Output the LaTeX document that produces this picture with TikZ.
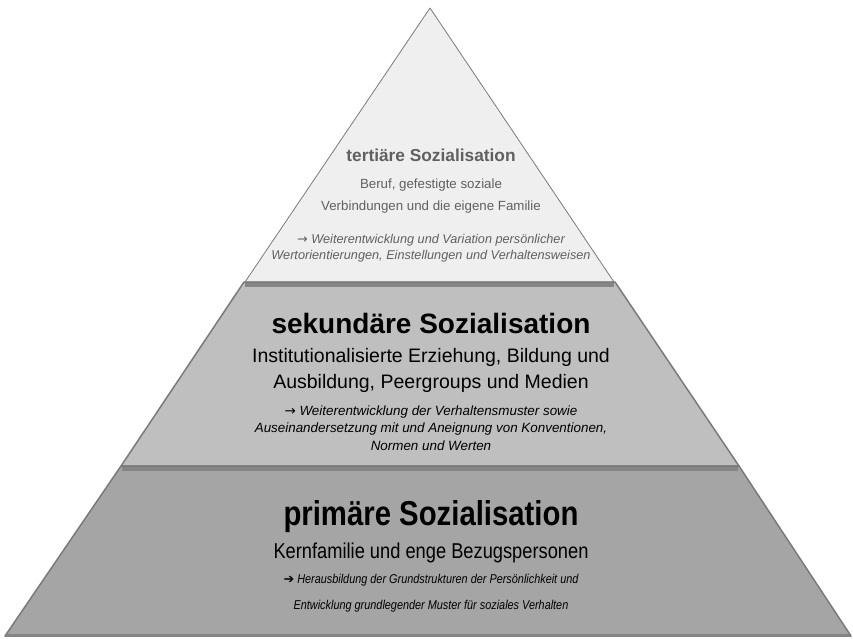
\documentclass[tikz,border=0pt]{standalone}
\usepackage{fontspec}
\setmainfont{Liberation Sans}
\newfontfamily\narrowfont[FakeStretch=0.85]{Liberation Sans}
\newfontfamily\symbfont{DejaVu Sans}
\definecolor{topfill}{HTML}{EFEFEF}
\definecolor{midfill}{HTML}{BFBFBF}
\definecolor{botfill}{HTML}{A5A5A5}
\definecolor{edgegray}{HTML}{7A7A7A}
\definecolor{bandgray}{HTML}{858585}
\definecolor{txtgray}{HTML}{606060}
\tikzset{layer/.style={draw=edgegray, line width=1.5pt, line join=round},
  band/.style={draw=bandgray, line width=4pt},
  head/.style={font=\bfseries, align=center, inner sep=0pt},
  body/.style={align=center, inner sep=0pt},
  note/.style={font=\itshape, align=center, inner sep=0pt}
}
\newcommand{\tarrow}{{\symbfont\upshape →}}

\begin{document}
\begin{tikzpicture}[x=1pt, y=-1pt]
  \useasboundingbox (0,0) rectangle (853,639);

  % pyramid layers
  \draw[layer, line width=0.8pt, fill=topfill] (430,8) -- (614,282) -- (245,282) -- cycle;
  \draw[layer, fill=midfill] (244,282) -- (615,282) -- (739,466) -- (121,466) -- cycle;
  \draw[band] (245,284.5) -- (614,284.5);
  \draw[layer, fill=botfill] (121,466) -- (739,466) -- (851,636) -- (5,636) -- cycle;
  \draw[band] (122,468.5) -- (738,468.5);
  \draw[band, line width=3pt] (6,635) -- (850,635);

  % tertiaer
  \node[head, font=\fontsize{17.3}{20}\selectfont\bfseries, text=txtgray] (ter) at (431,155) {terti\"are Sozialisation};
  \node[body, font=\fontsize{13.3}{22}\selectfont, text=txtgray] (ter_b) at (431,196)
       {Beruf, gefestigte soziale\\Verbindungen und die eigene Familie};
  \node[note, font=\fontsize{12.7}{15.5}\selectfont\itshape, text=txtgray] (ter_n) at (431,248)
       {\tarrow{} Weiterentwicklung und Variation pers\"onlicher\\Wertorientierungen, Einstellungen und Verhaltensweisen};

  % sekundaer
  \node[head, font=\fontsize{28}{32}\selectfont\bfseries] (sek) at (431,323) {sekund\"are Sozialisation};
  \node[body, font=\fontsize{19.5}{26}\selectfont] (sek_b) at (431,370)
       {Institutionalisierte Erziehung, Bildung und\\Ausbildung, Peergroups und Medien};
  \node[note, font=\fontsize{13.4}{17.5}\selectfont\itshape] (sek_n) at (431,428)
       {\tarrow{} Weiterentwicklung der Verhaltensmuster sowie\\Auseinandersetzung mit und Aneignung von Konventionen,\\Normen und Werten};

  % primaer
  \node[head, font=\narrowfont\fontsize{34.5}{38}\selectfont\bfseries] (pri) at (431,517) {prim\"are Sozialisation};
  \node[body, font=\narrowfont\fontsize{21.5}{24}\selectfont] (pri_b) at (431,553)
       {Kernfamilie und enge Bezugspersonen};
  \node[note, font=\narrowfont\fontsize{12.8}{26}\selectfont\itshape] (pri_n) at (431,593)
       {{\symbfont\bfseries ➔} Herausbildung der Grundstrukturen der Pers\"onlichkeit und\\Entwicklung grundlegender Muster f\"ur soziales Verhalten};
\end{tikzpicture}
\end{document}
